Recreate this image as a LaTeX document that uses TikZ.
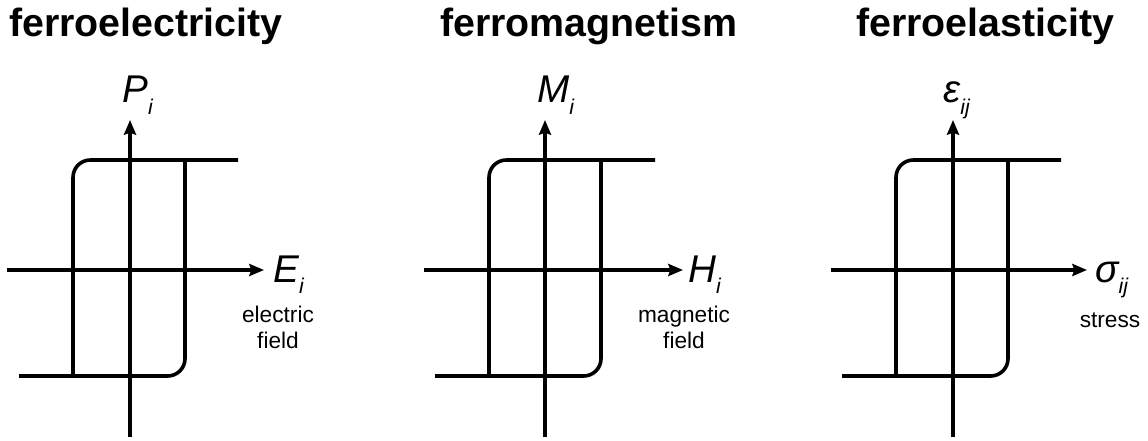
\documentclass[tikz,border=0pt]{standalone}
\usepackage{fontspec}
\setmainfont{Liberation Sans}
\usetikzlibrary{arrows.meta}
\newcommand{\hsub}[2]{{\itshape #1}\raisebox{-0.3em}{\fontsize{16}{16}\selectfont\itshape #2}}
\tikzset{
  htitle/.style={anchor=base west, inner sep=0pt, font=\fontsize{29.5}{29.5}\selectfont\bfseries},
  hlabel/.style={anchor=base west, inner sep=0pt, font=\fontsize{29}{29}\selectfont},
  hnote/.style={anchor=north, inner sep=0pt, align=center, font=\fontsize{17}{19}\selectfont},
  haxis/.style={-{Stealth[length=11pt,width=9pt,inset=1.5pt]}, line width=2.7pt},
  hloop/.style={line width=2.7pt, rounded corners=13pt}
}

\begin{document}
\begin{tikzpicture}[x=0.75pt,y=0.75pt]
\useasboundingbox (0,0) rectangle (1148,440);

% titles
\node[htitle] (t1) at (9,403) {ferroelectricity};
\node[htitle] (t2) at (440,403) {ferromagnetism};
\node[htitle] (t3) at (856,403) {ferroelasticity};

% ferroelectric loop
\draw[haxis] (7,170) -- (264,170);
\draw[haxis] (130,3) -- (130,320);
\draw[hloop] (238,280) -- (73,280) -- (73,64);
\draw[hloop] (19,64) -- (185,64) -- (185,280);
\node[hlabel] (p1) at (122,337) {\hsub{P}{i}};
\node[hlabel] (e1) at (273,158) {\hsub{E}{i}};
\node[hnote] (n1) at (278,134) {electric\\field};

% ferromagnetic loop
\draw[haxis] (424,170) -- (683,170);
\draw[haxis] (545,3) -- (545,320);
\draw[hloop] (655,280) -- (489,280) -- (489,64);
\draw[hloop] (435,64) -- (601,64) -- (601,280);
\node[hlabel] (p2) at (537,337) {\hsub{M}{i}};
\node[hlabel] (e2) at (688,158) {\hsub{H}{i}};
\node[hnote] (n2) at (684,134) {magnetic\\field};

% ferroelastic loop
\draw[haxis] (831,170) -- (1087,170);
\draw[haxis] (953,3) -- (953,320);
\draw[hloop] (1061,280) -- (896,280) -- (896,64);
\draw[hloop] (842,64) -- (1008,64) -- (1008,280);
\node[hlabel] (p3) at (943,337) {\hsub{ε}{ij}};
\node[hlabel] (e3) at (1095,158) {\hsub{σ}{ij}};
\node[hnote] (n3) at (1110,127) {stress};
\end{tikzpicture}
\end{document}
